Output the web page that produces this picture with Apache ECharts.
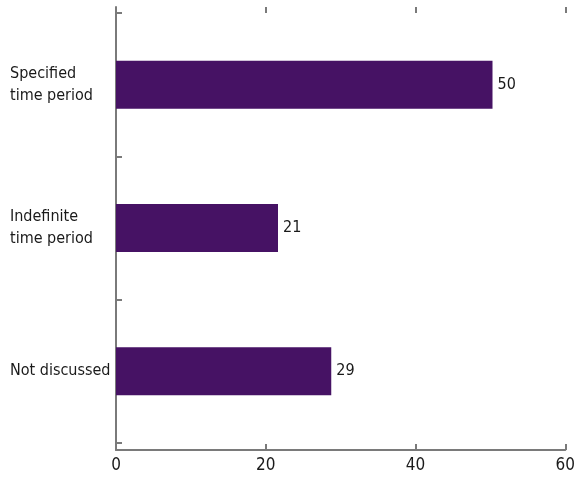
<!DOCTYPE html>
<html>
<head>
<meta charset="utf-8">
<script src="https://cdn.jsdelivr.net/npm/echarts@6/dist/echarts.min.js"></script>
<style>html,body{margin:0;padding:0;background:#fff}#c{width:578px;height:480px}</style>
</head>
<body>
<div id="c"></div>
<script>
var categories = ['Specified\ntime period', 'Indefinite\ntime period', 'Not discussed'];
var values = [50.2, 21.6, 28.7];
var valueLabels = ['50', '21', '29'];
var xTicks = [0, 20, 40, 60];

var FONT = "'DejaVu Sans Condensed', 'Roboto', sans-serif";
var AX = '#7a7a7a';
var chart = echarts.init(document.getElementById('c'), null, {renderer: 'canvas'});
chart.setOption({
  animation: false,
  grid: [
    {left: 116, right: 12, top: 7, bottom: 30},
    {left: 116, right: 12, top: 13, bottom: 37}
  ],
  xAxis: [
    {gridIndex: 0, type: 'value', position: 'bottom', min: xTicks[0], max: xTicks[xTicks.length - 1], interval: 20,
     axisLine: {show: true, lineStyle: {color: AX, width: 2}},
     axisTick: {show: true, inside: true, length: 6, lineStyle: {color: AX, width: 2}},
     axisLabel: {show: true, color: '#1a1a1a', fontSize: 17, fontFamily: FONT, margin: 7},
     splitLine: {show: false}},
    {gridIndex: 0, type: 'value', position: 'top', min: xTicks[0], max: xTicks[xTicks.length - 1], interval: 20,
     axisLine: {show: false},
     axisTick: {show: true, inside: true, length: 6, lineStyle: {color: AX, width: 2}},
     axisLabel: {show: false}, splitLine: {show: false}},
    {gridIndex: 1, type: 'value', min: 0, max: 60, show: false}
  ],
  yAxis: [
    {gridIndex: 0, type: 'value', min: 0, max: 1,
     axisLine: {show: true, lineStyle: {color: AX, width: 2}},
     axisTick: {show: false}, axisLabel: {show: false}, splitLine: {show: false}},
    {gridIndex: 1, type: 'category', data: categories, inverse: true,
     axisLine: {show: false},
     axisTick: {show: true, inside: true, length: 6, lineStyle: {color: AX, width: 2}},
     axisLabel: {show: true, align: 'left', margin: 106, color: '#1a1a1a', fontSize: 16, fontFamily: FONT, lineHeight: 22, padding: [7, 0, 0, 0]},
     splitLine: {show: false}}
  ],
  series: [{
    type: 'bar', xAxisIndex: 2, yAxisIndex: 1,
    data: values, barWidth: 48,
    itemStyle: {color: '#461264'},
    label: {show: true, position: 'right', distance: 5, color: '#1a1a1a', fontSize: 16, fontFamily: FONT,
      formatter: function (p) { return valueLabels[p.dataIndex]; }}
  }]
});
</script>
</body>
</html>
